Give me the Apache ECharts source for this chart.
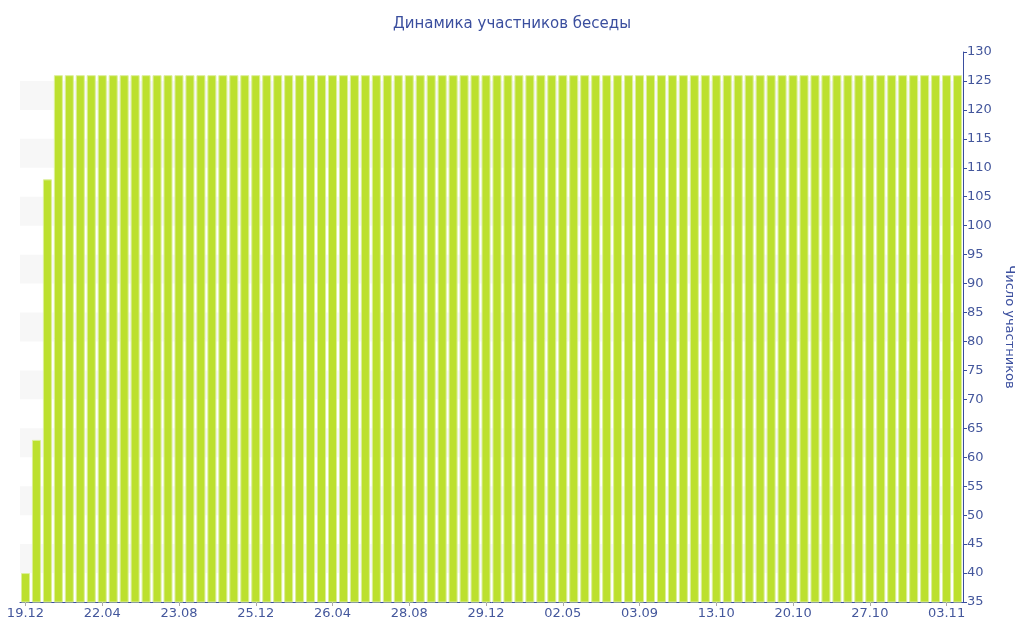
<!DOCTYPE html>
<html>
<head>
<meta charset="utf-8">
<script src="https://cdn.jsdelivr.net/npm/echarts@6/dist/echarts.min.js"></script>
<style>html,body{margin:0;padding:0;background:#fff}#c{width:1024px;height:640px}</style>
</head>
<body>
<div id="c"></div>
<script>
const titleText = 'Динамика участников беседы';
const yAxisName = 'Число участников';
const categories = [
  '19.12','06.01','24.01','10.02','28.02','18.03','04.04',
  '22.04','10.05','27.05','14.06','01.07','19.07','05.08',
  '23.08','10.09','28.09','16.10','02.11','20.11','07.12',
  '25.12','11.01','29.01','15.02','05.03','22.03','08.04',
  '26.04','14.05','01.06','19.06','07.07','25.07','11.08',
  '28.08','15.09','03.10','21.10','07.11','25.11','12.12',
  '29.12','15.01','02.02','20.02','09.03','27.03','14.04',
  '02.05','20.05','07.06','24.06','12.07','29.07','16.08',
  '03.09','09.09','15.09','21.09','27.09','02.10','08.10',
  '13.10','14.10','15.10','16.10','17.10','18.10','19.10',
  '20.10','21.10','22.10','23.10','24.10','25.10','26.10',
  '27.10','28.10','29.10','30.10','31.10','01.11','02.11',
  '03.11','04.11'
];
const members = [
  40, 63, 108, 126, 126, 126, 126, 126, 126, 126,
  126, 126, 126, 126, 126, 126, 126, 126, 126, 126,
  126, 126, 126, 126, 126, 126, 126, 126, 126, 126,
  126, 126, 126, 126, 126, 126, 126, 126, 126, 126,
  126, 126, 126, 126, 126, 126, 126, 126, 126, 126,
  126, 126, 126, 126, 126, 126, 126, 126, 126, 126,
  126, 126, 126, 126, 126, 126, 126, 126, 126, 126,
  126, 126, 126, 126, 126, 126, 126, 126, 126, 126,
  126, 126, 126, 126, 126, 126
];
const yMin = 35, yMax = 130, yStep = 5;

const blue = '#3a4e9e';
const labelBlue = '#44579c';
const chart = echarts.init(document.getElementById('c'), null, {renderer: 'canvas'});
chart.setOption({
  animation: false,
  backgroundColor: '#ffffff',
  textStyle: {fontFamily: 'DejaVu Sans'},
  title: {
    text: titleText,
    left: 'center',
    top: 12,
    textStyle: {fontFamily: 'DejaVu Sans', fontSize: 15, fontWeight: 'normal', color: blue}
  },
  grid: {left: 20, right: 61, top: 52, bottom: 38, containLabel: false},
  xAxis: {
    type: 'category',
    data: categories,
    axisLine: {lineStyle: {color: blue, width: 1}},
    axisTick: {show: true, alignWithLabel: true, interval: 6, length: 4, lineStyle: {color: '#aaaaaa'}},
    axisLabel: {interval: 6, color: labelBlue, fontSize: 13, fontFamily: 'DejaVu Sans', margin: 5}
  },
  yAxis: {
    type: 'value',
    position: 'right',
    min: yMin, max: yMax, interval: yStep,
    name: yAxisName,
    nameLocation: 'middle',
    nameRotate: -90,
    nameGap: 32,
    nameTextStyle: {color: blue, fontSize: 13, fontFamily: 'DejaVu Sans'},
    axisLine: {show: true, lineStyle: {color: blue, width: 1}},
    axisTick: {show: true, length: 4, lineStyle: {color: blue}},
    axisLabel: {color: labelBlue, fontSize: 13, fontFamily: 'DejaVu Sans', margin: 4},
    splitLine: {show: false},
    splitArea: {show: true, areaStyle: {color: ['rgba(255,255,255,0)', '#f7f7f7']}}
  },
  series: [{
    type: 'bar',
    data: members,
    barWidth: 9,
    itemStyle: {color: '#bce02e', borderColor: '#dcef9a', borderWidth: 1}
  }]
});
</script>
</body>
</html>
